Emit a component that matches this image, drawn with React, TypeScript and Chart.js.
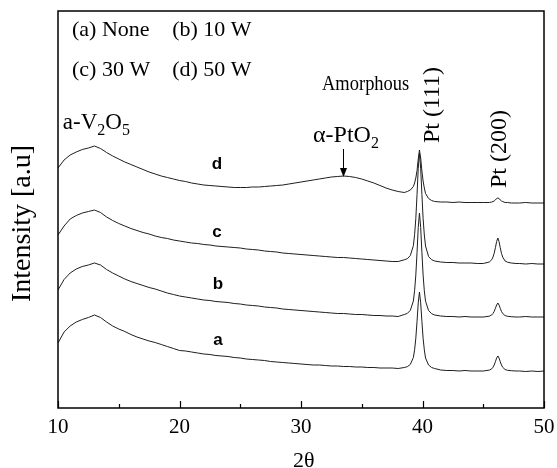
import { useEffect, useRef } from 'react';
import { Chart, registerables } from 'chart.js';

Chart.register(...registerables);

// 2θ sampling (degrees)
const X = [
  10, 10.5, 11, 11.5, 12, 12.5, 13, 13.5, 14, 14.5, 15, 15.5, 16, 16.5, 17, 17.5, 18, 18.5, 19, 19.5,
  20, 20.5, 21, 21.5, 22, 22.5, 23, 23.5, 24, 24.5, 25, 25.5, 26, 26.5, 27, 27.5, 28, 28.5, 29, 29.5,
  30, 30.5, 31, 31.5, 32, 32.5, 33, 33.5, 34, 34.5, 35, 35.5, 36, 36.5, 37, 37.5, 38,
  38.5, 38.75, 39, 39.25, 39.35, 39.45, 39.55, 39.65, 39.75, 39.85, 39.95, 40.05, 40.15, 40.25, 40.5, 40.75, 41,
  41.5, 42, 42.5, 43, 43.5, 44, 44.5, 45, 45.5, 45.7, 45.8, 45.9, 46, 46.1, 46.2, 46.3, 46.4, 46.5, 46.6, 46.8,
  47, 47.3, 47.7, 48, 48.5, 49, 49.5, 50,
];

// Intensity (a.u., curves stacked with offsets)
const A_NONE = [
  65, 76, 82, 86, 88.5, 90.5, 93, 90.5, 86, 82, 79, 76.5, 73.5, 71, 69, 67, 65.5, 63.5, 61.5, 59.5,
  57.5, 57, 56, 55, 54, 53.5, 52.5, 52, 51.5, 50.5, 50, 49, 48.5, 48, 47.5, 46.5, 46, 45.5, 45, 44.5,
  44, 43.5, 43, 43, 42.5, 42, 42, 41.5, 41.5, 41, 41, 40.5, 40.5, 40, 40, 40, 39.5,
  40.5, 41.3, 43.6, 50.5, 58.2, 69.8, 86.7, 105.2, 116, 105.2, 86.7, 69.8, 58.2, 50, 43, 40.5, 39.5,
  38, 37.5, 37.5, 37, 37.5, 37, 37, 37, 37.9, 39.2, 40.7, 43, 46.3, 49.9, 52, 49.9, 46.3, 43, 40.7, 38.5,
  37.7, 37.3, 37, 37, 36.5, 37, 36.5, 37,
];
const B_10W = [
  118, 128.5, 135, 139, 141.5, 143, 145, 143, 138.5, 135, 132, 129, 126.5, 124.5, 122.5, 120.5, 119, 117, 115, 113.5,
  112, 111, 110, 109, 108, 107.5, 106.5, 106, 105.5, 104.5, 104, 103, 102.5, 102, 101, 100.5, 100, 99, 98.5, 98,
  97.5, 97, 96.5, 96, 95.5, 95, 94.5, 94.5, 94, 93.5, 93.5, 93, 92.5, 92.5, 92, 92, 91.5,
  93.5, 94.6, 97.7, 107, 117.4, 132.9, 155.7, 180.5, 195, 180.5, 155.7, 132.9, 117.2, 106.8, 97.5, 94.3, 93,
  92, 91.5, 91.5, 91, 91.5, 91, 91, 91, 91.8, 93.1, 94.5, 96.6, 99.7, 103, 105, 103, 99.7, 96.6, 94.5, 92.4,
  91.7, 91.3, 91, 91, 91.5, 91, 91, 91,
];
const C_30W = [
  173, 182, 189, 192.5, 195, 196.5, 198, 195.5, 191, 187.5, 184.5, 182, 179.5, 177.5, 175.5, 174, 172, 170.5, 169.5, 168,
  167, 166, 165, 164.5, 163.5, 163, 162, 161.5, 161, 160.5, 160, 159, 158.5, 158, 157, 156.5, 156, 155, 154.5, 154,
  153.5, 153, 152.5, 152, 151.5, 151, 150.5, 150.5, 150, 149.5, 149, 148.5, 148, 147.5, 147, 146.5, 146.5,
  148.2, 149.3, 152.5, 162.4, 173.3, 189.6, 213.6, 239.7, 255, 239.7, 213.6, 189.6, 173, 162, 151.5, 148.3, 147,
  146, 145.5, 145.5, 145, 145, 145, 144.5, 144.5, 146, 148.3, 150.9, 154.7, 160.3, 166.4, 170, 166.4, 160.3, 154.7, 150.9, 147,
  145.8, 145, 144.5, 144.5, 144, 144.5, 144, 144,
];
const D_50W = [
  240, 248, 253, 256, 258.5, 260, 262, 259.5, 255.5, 252, 249, 246, 243.5, 241, 238.5, 236, 234, 232, 230.5, 229,
  227.5, 226.5, 225, 224, 223, 222.5, 222, 221.5, 221, 220.5, 220.5, 220.5, 221, 221, 221.5, 222, 222.5, 223, 224, 225,
  226, 227, 228, 229, 230, 231, 231.5, 232, 231.5, 230.5, 229, 227, 225, 222.5, 220, 218, 216.5,
  215.5, 216.5, 218, 221.5, 225, 230, 237.5, 249, 258, 250, 237, 227, 220, 214.5, 209.5, 207.5, 206.5,
  206, 206, 205.5, 206, 205.5, 205.5, 205.5, 205.5, 205.5, 206, 206.5, 207, 208, 209.5, 210, 209.5, 208, 207, 206.5, 205.5,
  205.5, 205, 205, 205, 205.5, 205, 205, 205,
];

const SERIES_NAMES = ['a', 'b', 'c', 'd'];
const SERIES_VALUES = [A_NONE, B_10W, C_30W, D_50W];
const X_MIN = 10;
const X_MAX = 50;
const X_MAJOR_STEP = 10;
const X_MINOR_STEP = 5;
const Y_MAX = 397;

const LEGEND_TEXT = [
  ['(a) None', '(b) 10 W'],
  ['(c) 30 W', '(d) 50 W'],
];

const SERIF = '"Liberation Serif", "Times New Roman", serif';
const SANS = '"Liberation Sans", Arial, sans-serif';

const annotPlugin = {
  id: 'annot',
  afterDraw(chart: any) {
    const { ctx, chartArea: ca, scales } = chart;
    const xs = scales.x;
    const ys = scales.y;
    const px = (v: number) => xs.getPixelForValue(v);
    const py = (v: number) => ys.getPixelForValue(v);
    ctx.save();
    // frame
    ctx.strokeStyle = '#000';
    ctx.lineWidth = 1.5;
    ctx.strokeRect(ca.left, ca.top, ca.right - ca.left, ca.bottom - ca.top);
    // inward ticks on bottom axis
    ctx.lineWidth = 1.2;
    for (let v = X_MIN; v <= X_MAX; v += X_MINOR_STEP) {
      const p = Math.round(px(v)) + 0.5;
      const len = v % X_MAJOR_STEP === 0 ? 7 : 4;
      ctx.beginPath();
      ctx.moveTo(p, ca.bottom);
      ctx.lineTo(p, ca.bottom - len);
      ctx.stroke();
    }

    ctx.fillStyle = '#000';
    const text = (t: string, x: number, y: number, font: string, align = 'left', base = 'middle') => {
      ctx.font = font;
      ctx.textAlign = align;
      ctx.textBaseline = base;
      ctx.fillText(t, x, y);
      return ctx.measureText(t).width;
    };

    // legend lines
    const legFont = `22px ${SERIF}`;
    const legY = [378, 338];
    const legX = [11.15, 19.4];
    LEGEND_TEXT.forEach((row, r) => {
      row.forEach((t, c) => text(t, px(legX[c]), py(legY[r]), legFont));
    });

    // a-V2O5
    const mainF = `23px ${SERIF}`;
    const subF = `16px ${SERIF}`;
    let cx = px(10.4);
    const cy = py(285.5);
    cx += text('a-V', cx, cy, mainF);
    cx += text('2', cx, cy + 8, subF);
    cx += text('O', cx, cy, mainF);
    text('5', cx, cy + 8, subF);

    // Amorphous (slightly condensed) / α-PtO2
    ctx.save();
    ctx.translate(px(31.73), py(324));
    ctx.scale(0.88, 1);
    text('Amorphous', 0, 0, `21px ${SERIF}`);
    ctx.restore();
    let ax = px(30.99);
    const ay = py(272);
    ax += text('α-PtO', ax, ay, `24px ${SERIF}`);
    text('2', ax, ay + 8, subF);

    // arrow
    const arX = Math.round(px(33.46)) + 0.5;
    const arTop = py(259);
    const arTip = py(231);
    ctx.lineWidth = 1;
    ctx.beginPath();
    ctx.moveTo(arX, arTop);
    ctx.lineTo(arX, arTip - 6);
    ctx.stroke();
    ctx.beginPath();
    ctx.moveTo(arX - 3.5, arTip - 9);
    ctx.lineTo(arX + 3.5, arTip - 9);
    ctx.lineTo(arX, arTip);
    ctx.closePath();
    ctx.fill();

    // rotated peak labels
    const rot = (t: string, xv: number, yv: number) => {
      ctx.save();
      ctx.translate(px(xv), py(yv));
      ctx.rotate(-Math.PI / 2);
      text(t, 0, 0, `24px ${SERIF}`, 'center', 'middle');
      ctx.restore();
    };
    rot('Pt (111)', 40.86, 303);
    rot('Pt (200)', 46.38, 259);

    // curve letters
    const lf = `bold 17px ${SANS}`;
    text('d', px(23.09), py(244), lf, 'center');
    text('c', px(23.09), py(176), lf, 'center');
    text('b', px(23.17), py(124), lf, 'center');
    text('a', px(23.17), py(68), lf, 'center');
    ctx.restore();
  },
};

export default function App() {
  const ref = useRef<HTMLCanvasElement | null>(null);
  useEffect(() => {
    document.body.style.margin = '0';
    const canvas = ref.current;
    if (!canvas) return;
    const chart = new Chart(canvas, {
      type: 'line',
      data: {
        datasets: SERIES_VALUES.map((vals, i) => ({
          label: SERIES_NAMES[i],
          data: X.map((x, j) => ({ x, y: vals[j] })),
          borderColor: '#1e1e1e',
          borderWidth: 1,
          pointRadius: 0,
          tension: 0,
          fill: false,
        })),
      },
      options: {
        animation: false,
        responsive: false,
        devicePixelRatio: 1,
        layout: { autoPadding: false, padding: { left: 0, right: 13, top: 11, bottom: 0 } },
        plugins: { legend: { display: false }, tooltip: { enabled: false } },
        scales: {
          x: {
            type: 'linear',
            min: X_MIN,
            max: X_MAX,
            grid: { display: false, drawTicks: false, tickLength: 0 },
            border: { display: false },
            ticks: {
              stepSize: X_MAJOR_STEP,
              padding: 0,
              color: '#000',
              font: { family: SERIF, size: 21, lineHeight: 1.857 },
            },
            title: {
              display: true,
              text: '\u00a02θ',
              color: '#000',
              font: { family: SERIF, size: 22, lineHeight: 0.6 },
              padding: { top: 7.8, bottom: 0 },
            },
          },
          y: {
            type: 'linear',
            min: 0,
            max: Y_MAX,
            grid: { display: false, drawTicks: false, tickLength: 0 },
            border: { display: false },
            ticks: { display: false },
            title: {
              display: true,
              text: 'Intensity [a.u]' + '\u00a0'.repeat(4),
              color: '#000',
              font: { family: SERIF, size: 28 },
              padding: { top: 6, bottom: 18.4 },
            },
          },
        },
      },
      plugins: [annotPlugin],
    } as any);
    return () => chart.destroy();
  }, []);
  return (
    <div style={{ width: 557, height: 468 }}>
      <canvas ref={ref} width={557} height={468} />
    </div>
  );
}
